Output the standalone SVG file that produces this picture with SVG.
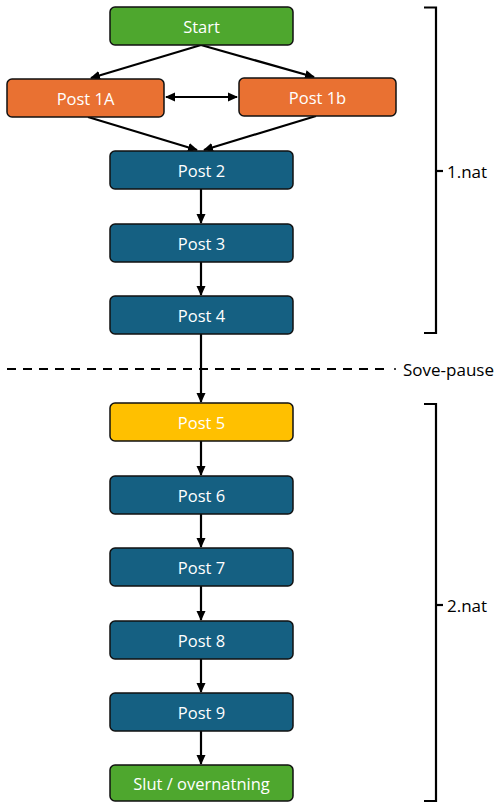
<svg xmlns="http://www.w3.org/2000/svg" width="498" height="802" viewBox="0 0 498 802">
<defs>
<marker id="ahv" viewBox="0 0 10 10" refX="9" refY="5" markerWidth="10" markerHeight="10" orient="auto-start-reverse" markerUnits="userSpaceOnUse">
<path d="M0,0.5 L10,5 L0,9.5 Z" fill="#000"/>
</marker>
</defs>
<style>
.box{stroke:#111;stroke-width:1.5}
.green{fill:#4EA72E}.orange{fill:#E97132}.teal{fill:#156082}.yellow{fill:#FFC000}
.lbl{font-family:"Open Sans","Liberation Sans",sans-serif;font-size:16.5px;fill:#fff;text-anchor:middle;dominant-baseline:central}
.side{font-family:"Open Sans","Liberation Sans",sans-serif;font-size:17px;fill:#000;dominant-baseline:central}
.conn{stroke:#000;stroke-width:2.2;fill:none}
.br{stroke:#000;stroke-width:2.2;fill:none}
</style>
<rect width="498" height="802" fill="#fff"/>
<g id="connectors">
<line class="conn" x1="201" y1="45" x2="91" y2="78" marker-end="url(#ahv)"/>
<line class="conn" x1="201" y1="45" x2="314" y2="77" marker-end="url(#ahv)"/>
<line class="conn" x1="88" y1="117" x2="197" y2="150" marker-end="url(#ahv)"/>
<line class="conn" x1="316" y1="116" x2="204" y2="150" marker-end="url(#ahv)"/>
<line class="conn" x1="166" y1="97" x2="237" y2="97" marker-start="url(#ahv)" marker-end="url(#ahv)"/>
<line class="conn" x1="201" y1="189" x2="201" y2="223" marker-end="url(#ahv)"/>
<line class="conn" x1="201" y1="262" x2="201" y2="295" marker-end="url(#ahv)"/>
<line class="conn" x1="201" y1="334" x2="201" y2="402" marker-end="url(#ahv)"/>
<line class="conn" x1="201" y1="441" x2="201" y2="475" marker-end="url(#ahv)"/>
<line class="conn" x1="201" y1="514" x2="201" y2="547" marker-end="url(#ahv)"/>
<line class="conn" x1="201" y1="586" x2="201" y2="620" marker-end="url(#ahv)"/>
<line class="conn" x1="201" y1="659" x2="201" y2="692" marker-end="url(#ahv)"/>
<line class="conn" x1="201" y1="731" x2="201" y2="764" marker-end="url(#ahv)"/>
</g>
<g id="pause">
<line x1="7" y1="369" x2="385" y2="369" stroke="#000" stroke-width="2.2" stroke-dasharray="9,7"/>
<line x1="394" y1="369" x2="396" y2="369" stroke="#000" stroke-width="1.5"/>
<text class="side" x="403" y="369">Sove-pause</text>
</g>
<g id="brace1">
<path class="br" d="M424,7.5 H436 V333 H424"/>
<line class="br" x1="436" y1="171" x2="443" y2="171"/>
<text class="side" x="447" y="171">1.nat</text>
</g>
<g id="brace2">
<path class="br" d="M424,404 H436 V801 H424"/>
<line class="br" x1="436" y1="605" x2="443" y2="605"/>
<text class="side" x="447" y="605">2.nat</text>
</g>
<g id="start"><rect class="box green" x="110" y="7" width="183" height="38" rx="5"/><text class="lbl" x="201.5" y="26">Start</text></g>
<g id="post1a"><rect class="box orange" x="7" y="79" width="157" height="38" rx="5"/><text class="lbl" x="85.5" y="98">Post 1A</text></g>
<g id="post1b"><rect class="box orange" x="239" y="78" width="157" height="38" rx="5"/><text class="lbl" x="317.5" y="97">Post 1b</text></g>
<g id="post2"><rect class="box teal" x="110" y="151" width="183" height="38" rx="5"/><text class="lbl" x="201.5" y="170">Post 2</text></g>
<g id="post3"><rect class="box teal" x="110" y="224" width="183" height="38" rx="5"/><text class="lbl" x="201.5" y="243">Post 3</text></g>
<g id="post4"><rect class="box teal" x="110" y="296" width="183" height="38" rx="5"/><text class="lbl" x="201.5" y="315">Post 4</text></g>
<g id="post5"><rect class="box yellow" x="110" y="403" width="183" height="38" rx="5"/><text class="lbl" x="201.5" y="422">Post 5</text></g>
<g id="post6"><rect class="box teal" x="110" y="476" width="183" height="38" rx="5"/><text class="lbl" x="201.5" y="495">Post 6</text></g>
<g id="post7"><rect class="box teal" x="110" y="548" width="183" height="38" rx="5"/><text class="lbl" x="201.5" y="567">Post 7</text></g>
<g id="post8"><rect class="box teal" x="110" y="621" width="183" height="38" rx="5"/><text class="lbl" x="201.5" y="640">Post 8</text></g>
<g id="post9"><rect class="box teal" x="110" y="693" width="183" height="38" rx="5"/><text class="lbl" x="201.5" y="712">Post 9</text></g>
<g id="slut"><rect class="box green" x="110" y="765" width="183" height="36" rx="5"/><text class="lbl" x="201.5" y="783">Slut / overnatning</text></g>
</svg>
